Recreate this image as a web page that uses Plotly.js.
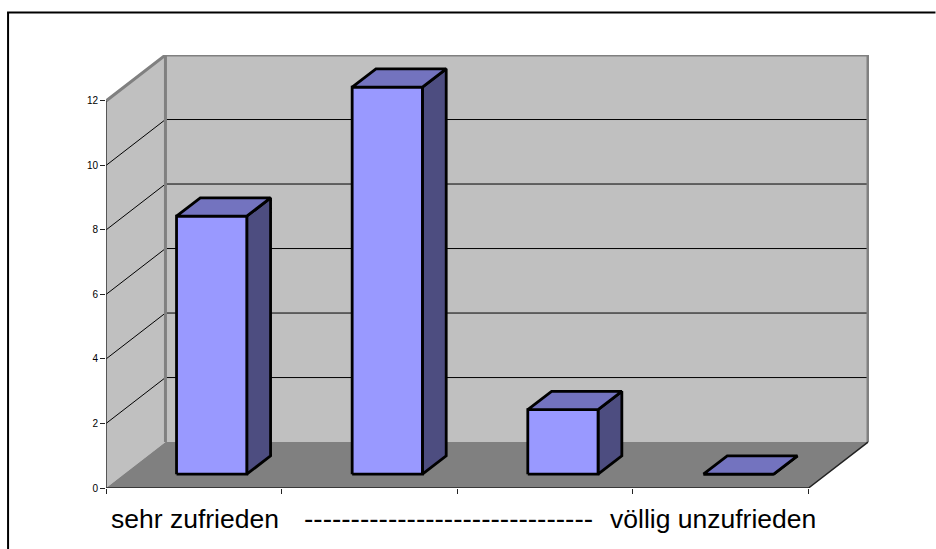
<!DOCTYPE html>
<html>
<head>
<meta charset="utf-8">
<script src="https://cdn.plot.ly/plotly-3.0.1.min.js"></script>
<style>html,body{margin:0;padding:0;background:#fff;overflow:hidden}#c{width:936px;height:549px}</style>
</head>
<body>
<div id="c"></div>
<script>
// Data
const categories = ["sehr zufrieden", "", "", "völlig unzufrieden"];
const values = [8, 12, 2, 0];
const yTicks = [0, 2, 4, 6, 8, 10, 12];
const xTicks = [0, 1, 2, 3, 4];
const labelLeft = "sehr zufrieden";
const labelDashes = "-------------------------------";
const labelRight = "völlig unzufrieden";

// Oblique projection: depth 0..1 shifts a point along the receding floor edge
const DX = 59.5 / 175.75, DY = 46 / 32.29;
const P = (cat, val, depth) => [cat + depth * DX, val + depth * DY];
const yMax = yTicks[yTicks.length - 1], nCat = categories.length;
const barW = 0.4, d0 = 0.3, d1 = 0.7;

function poly(points, fill, lineColor, lineWidth) {
  const xs = points.map(p => p[0]), ys = points.map(p => p[1]);
  return {
    type: "scatter", mode: lineColor ? "lines" : "none", x: xs, y: ys,
    fill: fill ? "toself" : "none", fillcolor: fill || undefined,
    line: {color: lineColor || "rgba(0,0,0,0)", width: lineWidth || 0, simplify: false},
    hoverinfo: "skip", showlegend: false, cliponaxis: false
  };
}
function seg(points, color, width) { return poly(points, null, color, width); }

const traces = [];
// Walls and floor
traces.push(poly([P(0,0,0), P(0,yMax,0), P(0,yMax,1), P(0,0,1)], "#C0C0C0"));
traces.push(poly([P(0,0,1), P(0,yMax,1), P(nCat,yMax,1), P(nCat,0,1)], "#C0C0C0"));
traces.push(poly([P(0,0,0), P(0,0,1), P(nCat,0,1), P(nCat,0,0)], "#808080"));
// Grid lines
yTicks.filter(v => v > 0 && v < yMax).forEach(v => {
  traces.push(seg([P(0,v,0), P(0,v,1), P(nCat,v,1)], "#000000", 1));
});
// Wall edges
traces.push(seg([P(0,yMax,0), P(0,yMax,1), P(nCat,yMax,1), P(nCat,0,1)], "#808080", 3));
traces.push(seg([P(0,yMax,1), P(0,0,1)], "#808080", 3));
// Axis edges
traces.push(seg([P(0,0,0), P(0,yMax,0)], "#333333", 1.5));
traces.push(seg([P(0,0,0), P(nCat,0,0), P(nCat,0,1)], "#222222", 1.5));
// Bars
values.forEach((v, i) => {
  const l = i + (1 - barW) / 2, r = l + barW;
  const lw = 2.8, k = "#000000";
  traces.push(poly([P(r,0,d0), P(r,v,d0), P(r,v,d1), P(r,0,d1), P(r,0,d0)], "#4D4D80", k, lw));
  traces.push(poly([P(l,0,d0), P(l,v,d0), P(r,v,d0), P(r,0,d0), P(l,0,d0)], "#9999FF", k, lw));
  traces.push(poly([P(l,v,d0), P(l,v,d1), P(r,v,d1), P(r,v,d0), P(l,v,d0)], "#7373BF", k, lw));
});

const W = 936, H = 549;
const mL = 106, mR = W - 869.5, mT = 54.5, mB = H - 488;
const xRange = [0, (W - mR - mL) / 175.75], yRange = [0, (H - mB - mT) / 32.29];
const px = x => (x - mL) / (W - mL - mR), py = y => (H - mB - y) / (H - mT - mB);
const FAMILY = "Liberation Sans, Arial, sans-serif";
const note = (text, x, anchor, size) => ({
  text, xref: "paper", yref: "paper", x: px(x), y: py(519),
  xanchor: anchor, yanchor: "middle", showarrow: false,
  font: {size, family: FAMILY, color: "#000000"}
});

const layout = {
  width: W, height: H, autosize: false,
  margin: {l: mL, r: mR, t: mT, b: mB, pad: 0},
  paper_bgcolor: "#FFFFFF", plot_bgcolor: "rgba(0,0,0,0)",
  font: {family: FAMILY, color: "#000000"},
  showlegend: false, hovermode: false,
  xaxis: {range: xRange, tickmode: "array", tickvals: xTicks, ticktext: xTicks.map(() => ""),
    ticks: "outside", ticklen: 5, tickwidth: 1, tickcolor: "#222222",
    showgrid: false, zeroline: false, showline: false, fixedrange: true},
  yaxis: {range: yRange, tickmode: "array", tickvals: yTicks, ticktext: yTicks.map(String),
    ticks: "outside", ticklen: 5, tickwidth: 1, tickcolor: "#222222",
    tickfont: {size: 10, family: FAMILY, color: "#000000"},
    showgrid: false, zeroline: false, showline: false, fixedrange: true},
  annotations: [
    note(labelLeft, 109, "left", 26.5),
    note(labelDashes, 449, "center", 28),
    note(labelRight, 818.5, "right", 26.5)
  ],
  shapes: [
    {type: "line", xref: "paper", yref: "paper", x0: px(8), x1: px(8), y0: py(12), y1: py(549), line: {color: "#000", width: 2}},
    {type: "line", xref: "paper", yref: "paper", x0: px(7), x1: px(936), y0: py(12), y1: py(12), line: {color: "#000", width: 2}}
  ]
};
Plotly.newPlot("c", traces, layout, {displayModeBar: false, staticPlot: true});
</script>
</body>
</html>
